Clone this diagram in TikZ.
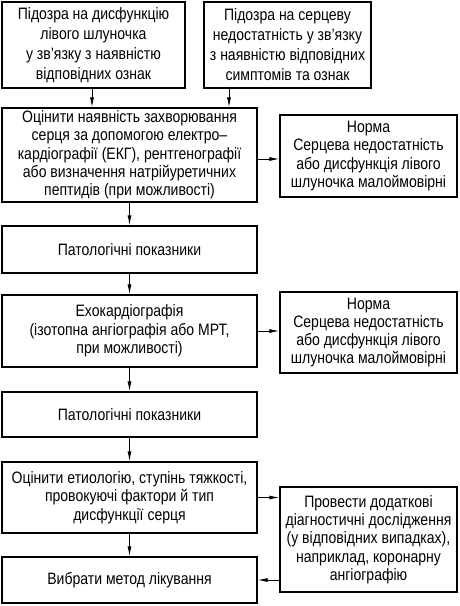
\documentclass[tikz,border=0pt]{standalone}
\usepackage{fontspec}
\setmainfont[FakeStretch=0.85]{Liberation Sans}
\usepackage{tikz}
\usetikzlibrary{arrows.meta,calc,positioning}

\begin{document}
\begin{tikzpicture}[x=1pt,y=-1pt,>={Latex[length=10pt,width=4pt]},
    blk/.style={draw,line width=1.2pt,align=center,inner sep=0pt,
      font=\fontsize{16.5}{18.3}\selectfont},
    top/.style={blk,font=\fontsize{16.5}{20}\selectfont},
    arr/.style={->,line width=.9pt}]
  \useasboundingbox (0,0) rectangle (460,606);
  \node[top,minimum width=183,minimum height=86] (src1) at (93.5,45)
    {Підозра на дисфункцію\\лівого шлуночка\\у зв'язку з наявністю\\відповідних ознак};
  \node[top,minimum width=167,minimum height=86] (src2) at (287.5,45)
    {Підозра на серцеву\\недостатність у зв'язку\\з наявністю відповідних\\симптомів та ознак};
  \node[blk,minimum width=255,minimum height=94] (eval) at (129.5,155)
    {Оцінити наявність захворювання\\серця за допомогою електро--\\кардіографії (ЕКГ), рентгенографії\\або визначення натрійуретичних\\пептидів (при можливості)};
  \node[blk,minimum width=177,minimum height=82] (norm1) at (368.5,156)
    {Норма\\Серцева недостатність\\або дисфункція лівого\\шлуночка малоймовірні};
  \node[blk,minimum width=255,minimum height=47] (path1) at (129.5,249.5)
    {Патологічні показники};
  \node[blk,minimum width=255,minimum height=72] (echo) at (129.5,331)
    {Ехокардіографія\\(ізотопна ангіографія або МРТ,\\при можливості)};
  \node[blk,minimum width=177,minimum height=81] (norm2) at (368.5,332.5)
    {Норма\\Серцева недостатність\\або дисфункція лівого\\шлуночка малоймовірні};
  \node[blk,minimum width=255,minimum height=45] (path2) at (129.5,414.5)
    {Патологічні показники};
  \node[blk,minimum width=255,minimum height=71] (etio) at (129.5,497.5)
    {Оцінити етиологію, ступінь тяжкості,\\провокуючі фактори й тип\\дисфункції серця};
  \node[blk,minimum width=255,minimum height=46] (treat) at (129.5,580)
    {Вибрати метод лікування};
  \node[blk,minimum width=177,minimum height=105] (extra) at (368.5,539.5)
    {Провести додаткові\\діагностичні дослідження\\(у відповідних випадках),\\наприклад, коронарну\\ангіографію};
  \draw[arr] (src1.south -| 92,0) -- (eval.north -| 92,0);
  \draw[arr] (src2.south -| 229,0) -- (eval.north -| 229,0);
  \draw[arr] (eval.east) ++(0,4) coordinate (e1) -- (e1 -| norm1.west);
  \draw[arr] (eval) -- (path1);
  \draw[arr] (path1) -- (echo);
  \draw[arr] (echo.east) -- (echo.east -| norm2.west);
  \draw[arr] (echo) -- (path2);
  \draw[arr] (path2) -- (etio);
  \draw[arr] (etio.east) -- (etio.east -| extra.west);
  \draw[arr] (etio) -- (treat);
  \draw[arr] (treat.east -| extra.west) -- (treat.east);
\end{tikzpicture}
\end{document}
